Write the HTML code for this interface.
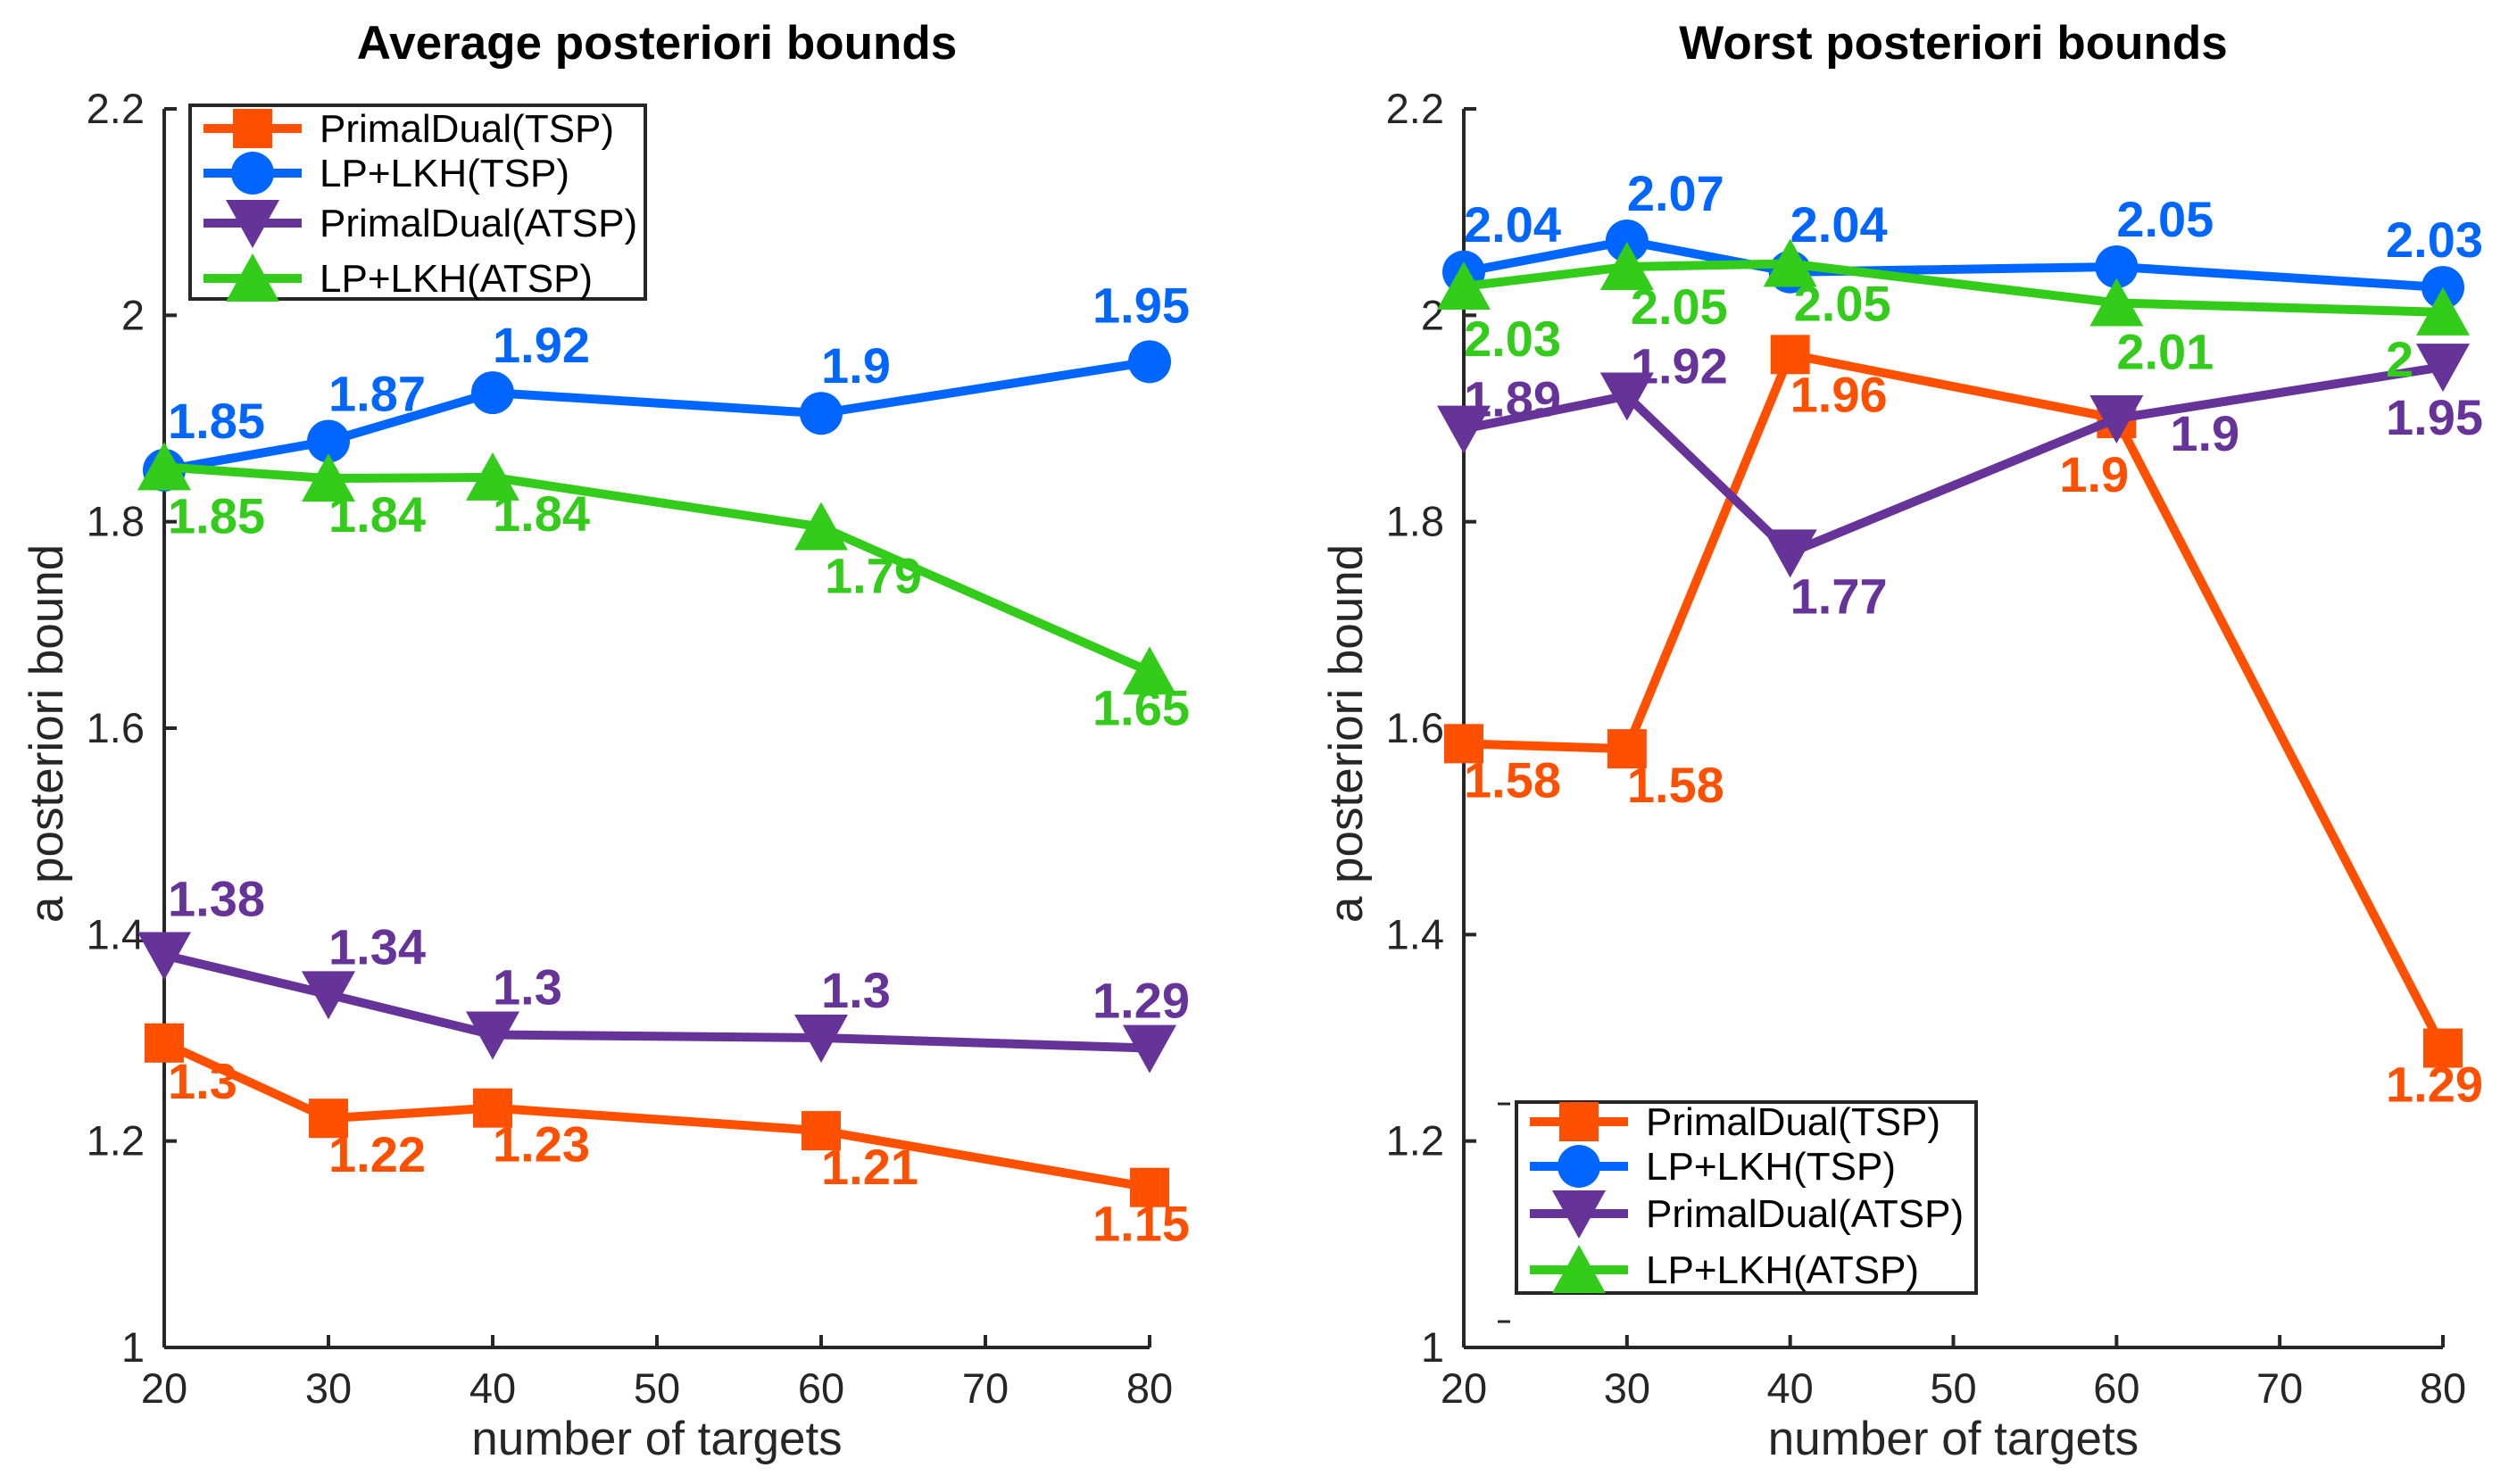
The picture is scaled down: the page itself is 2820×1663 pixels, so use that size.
<!DOCTYPE html>
<html><head><meta charset="utf-8"><style>
html,body{margin:0;padding:0;background:#fff;}
svg{display:block;font-family:"Liberation Sans",sans-serif;}
</style></head><body>
<svg id="chart" width="2820" height="1663" viewBox="0 0 2820 1663"></svg>
<script>
const xCategories = [20, 30, 40, 60, 80];
const xTicks = [20, 30, 40, 50, 60, 70, 80];
const yTicks = [1, 1.2, 1.4, 1.6, 1.8, 2, 2.2];
const yTickLabels = ["1", "1.2", "1.4", "1.6", "1.8", "2", "2.2"];
const seriesNames = ["PrimalDual(TSP)", "LP+LKH(TSP)", "PrimalDual(ATSP)", "LP+LKH(ATSP)"];
const avgPDTSP = [1.295, 1.222, 1.232, 1.21, 1.155];
const avgLPTSP = [1.85, 1.878, 1.925, 1.905, 1.955];
const avgPDATSP = [1.38, 1.342, 1.303, 1.3, 1.29];
const avgLPATSP = [1.853, 1.842, 1.843, 1.795, 1.655];
const avgLabelsPDTSP = ["1.3", "1.22", "1.23", "1.21", "1.15"];
const avgLabelsLPTSP = ["1.85", "1.87", "1.92", "1.9", "1.95"];
const avgLabelsPDATSP = ["1.38", "1.34", "1.3", "1.3", "1.29"];
const avgLabelsLPATSP = ["1.85", "1.84", "1.84", "1.79", "1.65"];
const worstPDTSP = [1.585, 1.58, 1.962, 1.9, 1.29];
const worstLPTSP = [2.042, 2.072, 2.042, 2.047, 2.027];
const worstPDATSP = [1.89, 1.922, 1.77, 1.9, 1.95];
const worstLPATSP = [2.028, 2.047, 2.05, 2.012, 2.003];
const worstLabelsPDTSP = ["1.58", "1.58", "1.96", "1.9", "1.29"];
const worstLabelsLPTSP = ["2.04", "2.07", "2.04", "2.05", "2.03"];
const worstLabelsPDATSP = ["1.89", "1.92", "1.77", "1.9", "1.95"];
const worstLabelsLPATSP = ["2.03", "2.05", "2.05", "2.01", "2"];

const NS = "http://www.w3.org/2000/svg";
const svg = document.getElementById('chart');
const COLORS = ["#ff5000", "#0066ff", "#663399", "#33cc1a"];
const MARK = ["square", "circle", "down", "up"];
const AX = "#262626";

function mk(tag, attrs, parent) {
  const e = document.createElementNS(NS, tag);
  for (const k in attrs) e.setAttribute(k, attrs[k]);
  (parent || svg).appendChild(e);
  return e;
}
function txt(s, attrs, parent) { const t = mk('text', attrs, parent); t.textContent = s; return t; }

function marker(g, type, cx, cy, color) {
  let m;
  if (type === 'square') m = mk('rect', {x: cx - 22, y: cy - 22, width: 44, height: 44, fill: color}, g);
  else if (type === 'circle') m = mk('circle', {cx: cx, cy: cy, r: 24, fill: color}, g);
  else if (type === 'down') m = mk('polygon', {points: `${cx-30},${cy-26} ${cx+30},${cy-26} ${cx},${cy+28}`, fill: color}, g);
  else m = mk('polygon', {points: `${cx-30},${cy+26} ${cx+30},${cy+26} ${cx},${cy-28}`, fill: color}, g);
  return m;
}

function panel(opts) {
  const x0 = opts.x0, x1 = opts.x1, yTop = 122, yBot = 1510;
  const sx = v => x0 + (v - 20) / 60 * (x1 - x0);
  const sy = v => yBot - (v - 1) / 1.2 * (yBot - yTop);
  const g = mk('g', {});
  
  
  const t = txt(opts.title, {x: (x0 + x1) / 2, y: 66, 'text-anchor': 'middle', 'font-size': 53, 'font-weight': 'bold', fill: '#000'}, g);
  
  
  const axis = mk('g', {}, g);
  
  
  mk('line', {x1: x0, y1: yTop, x2: x0, y2: yBot, stroke: AX, 'stroke-width': 4}, axis);
  mk('line', {x1: x0, y1: yBot, x2: x1, y2: yBot, stroke: AX, 'stroke-width': 4}, axis);
  xTicks.forEach(v => {
    mk('line', {x1: sx(v), y1: yBot, x2: sx(v), y2: yBot - 14, stroke: AX, 'stroke-width': 4}, axis);
    const l = txt(String(v), {x: sx(v), y: yBot + 62, 'text-anchor': 'middle', 'font-size': 47, fill: AX}, axis);
    
    
  });
  yTicks.forEach((v, i) => {
    mk('line', {x1: x0, y1: sy(v), x2: x0 + 14, y2: sy(v), stroke: AX, 'stroke-width': 4}, axis);
    const l = txt(yTickLabels[i], {x: x0 - 22, y: sy(v) + 16, 'text-anchor': 'end', 'font-size': 47, fill: AX}, axis);
    
    
  });
  const xl = txt('number of targets', {x: (x0 + x1) / 2, y: 1630, 'text-anchor': 'middle', 'font-size': 53, fill: AX}, g);
  
  
  const yl = txt('a posteriori bound', {x: 0, y: 0, 'text-anchor': 'middle', 'font-size': 53, fill: AX, transform: `translate(${x0 - 114},822) rotate(-90)`}, g);
  
  
  if (opts.extraTicks) opts.extraTicks.forEach(yy => mk('line', {x1: x0 + 38, y1: yy, x2: x0 + 52, y2: yy, stroke: AX, 'stroke-width': 3}, g));
  opts.series.forEach((s, si) => {
    const sg = mk('g', {}, g);
    
    
    const pts = s.values.map((v, i) => sx(xCategories[i]) + ',' + sy(v)).join(' ');
    mk('polyline', {points: pts, fill: 'none', stroke: COLORS[si], 'stroke-width': 10, 'stroke-linejoin': 'round'}, sg);
    s.values.forEach((v, i) => {
      const m = marker(sg, MARK[si], sx(xCategories[i]), sy(v), COLORS[si]);
      
      
    });
    s.values.forEach((v, i) => {
      const o = s.off[i];
      const l = txt(s.labels[i], {x: sx(xCategories[i]) + o[0], y: sy(v) + o[1], 'font-size': 56, 'font-weight': 'bold', fill: COLORS[si]}, sg);
      
      
    });
  });
  const L = opts.legend;
  const lg = mk('g', {}, g);
  
  
  mk('rect', {x: L.x, y: L.y, width: L.w, height: L.h, fill: '#fff', stroke: AX, 'stroke-width': 4}, lg);
  seriesNames.forEach((n, i) => {
    const yy = L.y + L.rows[i];
    const e = mk('g', {}, lg);
    
    
    mk('line', {x1: L.x + 15, y1: yy, x2: L.x + 125, y2: yy, stroke: COLORS[i], 'stroke-width': 10}, e);
    marker(e, MARK[i], L.x + 70, yy, COLORS[i]);
    txt(n, {x: L.x + 145, y: yy + 15, 'font-size': 44, fill: '#000'}, e);
  });
}

const A = [0, -34], B = [0, 60], E = [-64, -34], F = [-64, 60];
panel({
  name: 'average-panel', title: 'Average posteriori bounds', x0: 184, x1: 1288,
  legend: {x: 213, y: 118, w: 510, h: 217, rows: [26, 76, 132, 194]},
  series: [
    {values: avgPDTSP, labels: avgLabelsPDTSP, off: [[4, 62], B, B, B, F]},
    {values: avgLPTSP, labels: avgLabelsLPTSP, off: [[4, -36], A, A, A, [-64, -44]]},
    {values: avgPDATSP, labels: avgLabelsPDATSP, off: [[4, -44], A, A, A, E]},
    {values: avgLPATSP, labels: avgLabelsLPATSP, off: [[4, 74], B, B, [4, 74], F]}
  ]
});
panel({
  name: 'worst-panel', title: 'Worst posteriori bounds', x0: 1640, x1: 2737,
  extraTicks: [1237, 1481],
  legend: {x: 1699, y: 1235, w: 515, h: 214, rows: [22, 72, 125, 188]},
  series: [
    {values: worstPDTSP, labels: worstLabelsPDTSP, off: [B, B, [0, 64], [-64, 82], F]},
    {values: worstLPTSP, labels: worstLabelsLPTSP, off: [A, A, A, A, E]},
    {values: worstPDATSP, labels: worstLabelsPDATSP, off: [[0, -14], [4, -14], [0, 68], [60, 36], [-64, 76]]},
    {values: worstLPATSP, labels: worstLabelsLPATSP, off: [[0, 78], [4, 64], [4, 64], [0, 74], [-64, 72]]}
  ]
});
</script>
</body></html>
